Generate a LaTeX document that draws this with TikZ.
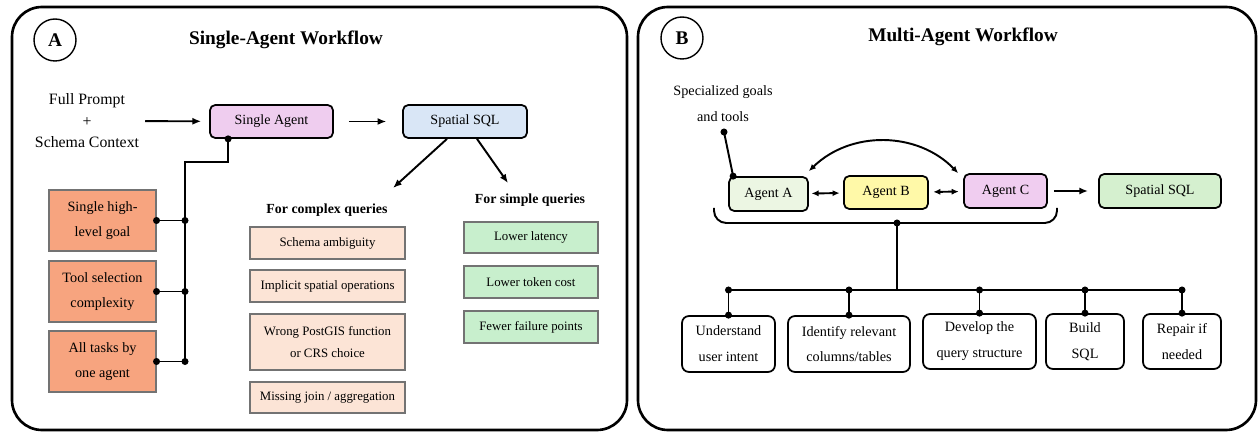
\documentclass[tikz,border=0pt]{standalone}
\usepackage{fontspec}
\setmainfont{Liberation Serif}
\usepackage{xcolor}
\usepackage{tikz}
\usetikzlibrary{positioning,calc,arrows.meta}

\definecolor{singlefill}{HTML}{EFCDEF}
\definecolor{sqlblue}{HTML}{D9E6F6}
\definecolor{issuefill}{HTML}{FCE4D6}
\definecolor{gainfill}{HTML}{C8EFCD}
\definecolor{traitfill}{HTML}{F7A47F}
\definecolor{agentAfill}{HTML}{ECF6E3}
\definecolor{agentBfill}{HTML}{FFF9A8}
\definecolor{agentCfill}{HTML}{F0CDF0}
\definecolor{sqlgreen}{HTML}{D5F0CF}

\begin{document}
\begin{tikzpicture}[x=0.02cm, y=-0.02cm,
    panel/.style={draw, line width=1.5pt, rounded corners=0.6cm},
    tag/.style={draw, circle, line width=0.8pt, minimum size=0.84cm, inner sep=0pt, font=\bfseries\fontsize{11}{13}\selectfont},
    title/.style={font=\bfseries\fontsize{11}{13}\selectfont},
    agent/.style={draw, line width=1pt, rounded corners=3pt, inner sep=0pt, font=\fontsize{8}{10}\selectfont},
    flatbox/.style={draw=black!55, line width=0.6pt, inner sep=0pt, align=center, font=\fontsize{7.3}{13}\selectfont},
    issue/.style={flatbox, fill=issuefill, minimum width=3.1cm},
    gain/.style={flatbox, fill=gainfill, minimum width=2.68cm},
    trait/.style={draw=black!55, line width=0.6pt, fill=traitfill, minimum width=2.14cm, minimum height=1.22cm, inner sep=0pt, align=center, font=\fontsize{8.1}{14}\selectfont},
    task/.style={draw, line width=1pt, rounded corners=4pt, inner sep=0pt, align=center, minimum height=1.12cm, font=\fontsize{8.1}{14.7}\selectfont},
    link/.style={line width=1.1pt},
    arr/.style={link, -{Latex[length=5pt,width=4pt]}},
    dbl/.style={link, {Latex[length=4pt,width=3.5pt]}-{Latex[length=4pt,width=3.5pt]}},
  ]
    \useasboundingbox (0,0) rectangle (1259,432);

    % panel A
    \draw[panel] (12,7) rectangle (627,430);
    \node[tag] (tagA) at (55,40) {A};
    \node[title] (titleA) at (286,40) {Single-Agent Workflow};
    \node[align=center, font=\fontsize{9}{12.2}\selectfont] (prompt) at (87,121) {Full Prompt\\+\\Schema Context};

    \node[agent, fill=singlefill, minimum width=2.46cm, minimum height=0.66cm] (single) at (271.5,121.5) {Single Agent};
    \node[agent, fill=sqlblue, minimum width=2.48cm, minimum height=0.66cm] (sqlA) at (465,121.5) {Spatial SQL};
    \draw[arr, shorten >=4.5pt] (prompt) -- (single);
    \draw[arr, shorten <=8.5pt, shorten >=9pt] (single) -- (sqlA);

    \node[font=\bfseries\fontsize{7.9}{10}\selectfont] (complexhd) at (327,210) {For complex queries};
    \node[font=\bfseries\fontsize{7.9}{10}\selectfont] (simplehd) at (530,200) {For simple queries};
    \coordinate (complexin) at (393,188);
    \coordinate (simplein) at (508,183);
    \draw[arr] ([xshift=-0.36cm]sqlA.south) -- (complexin);
    \draw[arr] ([xshift=0.24cm]sqlA.south) -- (simplein);

    \node[issue, minimum height=0.64cm] (issue1) at (327.5,243) {Schema ambiguity};
    \node[issue, minimum height=0.64cm] (issue2) at (327.5,286) {Implicit spatial operations};
    \node[issue, minimum height=1.12cm] (issue3) at (327.5,342) {Wrong PostGIS function\\or CRS choice};
    \node[issue, minimum height=0.62cm] (issue4) at (327.5,397.5) {Missing join / aggregation};

    \node[gain, minimum height=0.62cm] (gain1) at (531,237.5) {Lower latency};
    \node[gain, minimum height=0.64cm] (gain2) at (531,282) {Lower token cost};
    \node[gain, minimum height=0.64cm] (gain3) at (531,327) {Fewer failure points};

    \node[trait] (trait1) at (102.5,220.5) {Single high-\\level goal};
    \node[trait] (trait2) at (102.5,291.5) {Tool selection\\complexity};
    \node[trait] (trait3) at (102.5,361.5) {All tasks by\\one agent};

    \coordinate (hub) at ([xshift=0.38cm]single.south west);
    \coordinate (busend) at (185,361.5);
    \draw[link] (hub) -- ++(0,23) -| (busend);
    \fill (hub) circle (2pt);
    \foreach \i in {1,2,3} {
        \draw[link] (trait\i.east) -- (trait\i.east -| busend);
        \fill (trait\i.east) circle (2pt) (trait\i.east -| busend) circle (2pt);
    }

    % panel B
    \draw[panel] (638,7) rectangle (1256,430);
    \node[tag] (tagB) at (682,38) {B};
    \node[title] (titleB) at (963,37) {Multi-Agent Workflow};
    \node[align=center, font=\fontsize{8.1}{14.7}\selectfont] (goals) at (723,104) {Specialized goals\\and tools};

    \node[agent, fill=agentAfill, minimum width=1.58cm, minimum height=0.68cm] (agentA) at (768.5,194) {Agent A};
    \node[agent, fill=agentBfill, minimum width=1.68cm, minimum height=0.66cm] (agentB) at (886,192.5) {Agent B};
    \node[agent, fill=agentCfill, minimum width=1.66cm, minimum height=0.68cm] (agentC) at (1005.5,191) {Agent C};
    \node[agent, fill=sqlgreen, minimum width=2.44cm, minimum height=0.68cm] (sqlB) at (1160,191) {Spatial SQL};

    \draw[dbl, shorten <=1.5pt, shorten >=2pt] (agentA) -- (agentB);
    \draw[dbl, shorten <=2.5pt, shorten >=2.5pt] (agentB) -- (agentC);
    \draw[arr, shorten <=3.4pt, shorten >=5.7pt] (agentC) -- (sqlB);
    \draw[dbl] ([yshift=0.1cm]agentA.north east) to[bend left=45] ([xshift=-0.1cm]agentC.north west);

    \coordinate (goalpin) at (724,132);
    \draw[link] (goalpin) -- ([xshift=0.1cm]agentA.north west);
    \fill (goalpin) circle (2pt) ([xshift=0.1cm]agentA.north west) circle (2pt);

    \coordinate (braceL) at (714,208);
    \coordinate (braceR) at (1057,208);
    \coordinate (braceM) at (897,223);
    \draw[link, rounded corners=7pt] (braceL) |- (braceM) -| (braceR);
    \fill (braceM) circle (2pt);

    \node[task, minimum width=1.86cm] (task1) at (728.5,344) {Understand\\user intent};
    \node[task, minimum width=2.44cm] (task2) at (849,344) {Identify relevant\\columns/tables};
    \node[task, minimum width=2.26cm, minimum height=1.1cm] (task3) at (979.5,341.5) {Develop the\\query structure};
    \node[task, minimum width=1.56cm, minimum height=1.1cm] (task4) at (1085,341.5) {Build\\SQL};
    \node[task, minimum width=1.56cm, minimum height=1.1cm] (task5) at (1182,341.5) {Repair if\\needed};

    \coordinate (split) at (897,290);
    \draw[link] (braceM) -- (split);
    \draw[link] (task1.north |- split) -- (task5.north |- split);
    \foreach \i in {1,...,5} {
        \draw[link] (task\i.north) -- (task\i.north |- split);
        \fill (task\i.north) circle (2pt) (task\i.north |- split) circle (2pt);
    }
\end{tikzpicture}
\end{document}
